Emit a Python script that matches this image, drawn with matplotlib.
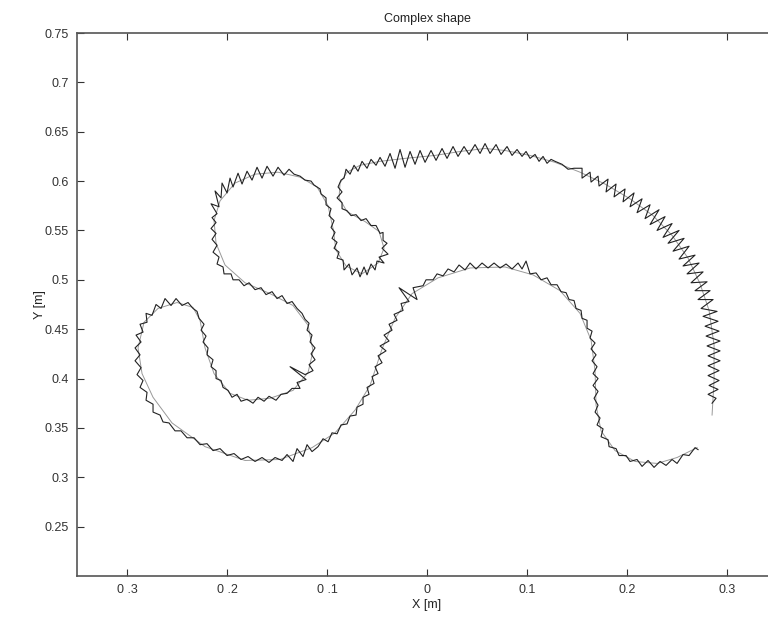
import matplotlib
matplotlib.use('Agg')
import matplotlib.pyplot as plt

# reference path (desired shape), in mm
ref_x = [285, 287, 287, 282, 273, 261, 245, 226, 203, 178, 153, 128, 103, 78, 58, 33, 8, -22, -47, -67,
         -80, -87, -88, -80, -62, -48, -43, -49, -65, -81, -91, -94, -99, -110, -127, -149, -172, -192,
         -207, -213, -211, -202, -182, -157, -134, -119, -114, -119, -134, -157, -179, -197, -213, -222,
         -227, -234, -250, -269, -283, -289, -285, -274, -255, -222, -182, -147, -115, -92, -72, -57, -45,
         -32, -15, 11, 43, 78, 106, 133, 153, 164, 168, 169, 174, 188, 208, 230, 250, 270]
ref_y = [363, 398, 434, 469, 496, 522, 545, 565, 582, 597, 609, 619, 626, 631, 633, 630, 626, 623, 620,
         616, 609, 598, 583, 569, 559, 549, 532, 517, 506, 514, 530, 552, 575, 594, 604, 609, 607, 598,
         580, 560, 537, 515, 497, 486, 474, 454, 428, 406, 388, 380, 378, 385, 405, 431, 459, 472, 477,
         471, 457, 431, 405, 381, 355, 331, 317, 318, 330, 345, 368, 393, 430, 461, 486, 502, 512, 513,
         505, 489, 466, 439, 408, 373, 347, 327, 316, 314, 320, 330]

# measured (tracked) path, in mm
meas = [
    (285, 375), (289, 380), (281, 384), (291, 389), (282, 393), (292, 398), (281, 403), (292, 408),
    (281, 413), (293, 418), (281, 423), (293, 428), (280, 433), (293, 438), (279, 443), (292, 448),
    (278, 453), (291, 458), (276, 463), (290, 468),
    (274, 471), (286, 480), (271, 480), (283, 489), (268, 489), (280, 498),
    (264, 497), (276, 508), (260, 506), (272, 517), (256, 514), (268, 525),
    (252, 521), (262, 534), (246, 529), (257, 542), (241, 537), (252, 550),
    (236, 543), (245, 557), (230, 550), (238, 564), (223, 556), (232, 571),
    (218, 562), (223, 576), (210, 568), (215, 582), (203, 574), (207, 588),
    (196, 579), (198, 592), (187, 584), (189, 597), (179, 589), (181, 602),
    (172, 595), (171, 605), (164, 599), (163, 609), (155, 603), (155, 613),
    (147, 613), (141, 612), (135, 617), (128, 620),
    (124, 622), (120, 618), (116, 625), (112, 620), (108, 627), (103, 623), (99, 630), (95, 625),
    (90, 632), (85, 626), (80, 635), (74, 627), (69, 637), (63, 628), (58, 638), (53, 628),
    (48, 637), (42, 627), (37, 635), (31, 625), (26, 635), (20, 623), (15, 633), (9, 621),
    (4, 631), (-2, 619), (-7, 631), (-12, 617), (-17, 630), (-22, 614), (-27, 632), (-32, 613),
    (-37, 628), (-42, 615), (-47, 624), (-51, 616), (-56, 622), (-60, 613), (-65, 620), (-69, 610),
    (-73, 616), (-77, 607), (-81, 612), (-83, 603),
    (-86, 601), (-89, 594), (-85, 589), (-90, 583), (-85, 578), (-85, 572), (-80, 570), (-76, 565),
    (-71, 566), (-66, 560), (-61, 562), (-56, 555), (-51, 555), (-47, 547), (-44, 548), (-44, 540),
    (-40, 537), (-45, 532), (-39, 526), (-48, 523), (-43, 517), (-50, 519), (-52, 510), (-56, 516),
    (-60, 505), (-63, 513), (-67, 503), (-70, 512), (-75, 505), (-78, 516), (-83, 510), (-84, 520),
    (-90, 522), (-88, 528), (-93, 532), (-90, 538), (-95, 542), (-92, 548), (-96, 553), (-93, 560),
    (-98, 565), (-96, 572), (-101, 576), (-101, 583), (-106, 587), (-107, 592), (-113, 596),
    (-116, 600), (-122, 601), (-127, 605),
    (-133, 607), (-138, 612), (-143, 606), (-149, 614), (-154, 605), (-160, 615), (-165, 603),
    (-170, 614), (-175, 601), (-180, 610), (-185, 597), (-189, 608), (-194, 594), (-197, 603),
    (-200, 588), (-205, 598), (-206, 583), (-212, 590), (-208, 574), (-216, 577), (-210, 567),
    (-215, 563), (-211, 558), (-216, 552), (-211, 547), (-215, 541), (-210, 535), (-214, 528),
    (-208, 523), (-210, 516), (-204, 513), (-203, 506), (-196, 506), (-194, 500), (-188, 500),
    (-183, 494), (-178, 497), (-172, 490), (-166, 492), (-161, 485), (-155, 488), (-150, 481),
    (-145, 484), (-140, 476), (-135, 478), (-130, 471),
    (-125, 466), (-122, 460), (-118, 456), (-120, 449), (-115, 444), (-117, 437), (-112, 431),
    (-116, 425), (-112, 419), (-118, 414), (-114, 408), (-122, 404), (-137, 412), (-121, 399),
    (-130, 396), (-127, 390), (-135, 390), (-140, 385), (-146, 384), (-151, 378), (-158, 382),
    (-163, 377), (-169, 381), (-174, 375), (-180, 379), (-186, 377), (-190, 384), (-195, 381),
    (-199, 388), (-204, 391), (-206, 398), (-211, 400), (-211, 408), (-216, 412), (-214, 419),
    (-220, 424), (-219, 431), (-224, 437), (-221, 443), (-226, 449), (-223, 455), (-228, 461),
    (-230, 468), (-234, 471), (-239, 477), (-245, 474), (-251, 481), (-256, 474), (-262, 481),
    (-266, 471), (-271, 475), (-275, 464), (-281, 466), (-280, 457), (-287, 455), (-284, 447),
    (-291, 444), (-286, 437), (-292, 431), (-287, 424), (-292, 418), (-286, 411), (-290, 404),
    (-284, 398), (-287, 391), (-280, 386), (-281, 378), (-274, 374), (-274, 366), (-267, 363),
    (-264, 356), (-258, 355), (-252, 347), (-246, 347), (-240, 340), (-233, 340), (-227, 333),
    (-220, 334), (-214, 327), (-207, 329), (-200, 322), (-193, 324), (-186, 318), (-179, 321),
    (-172, 316), (-165, 320), (-158, 315), (-152, 320), (-145, 317),
    (-140, 323), (-134, 316), (-130, 329), (-124, 321), (-120, 333), (-115, 326),
    (-109, 331), (-104, 339), (-99, 336), (-95, 345), (-90, 344), (-86, 353), (-80, 354), (-77, 362),
    (-71, 363), (-70, 371), (-64, 374), (-64, 381), (-58, 384), (-60, 391), (-53, 395), (-55, 402),
    (-49, 405), (-52, 412), (-45, 416), (-49, 423), (-41, 428), (-47, 433), (-38, 438), (-43, 444),
    (-35, 449), (-38, 455), (-30, 459), (-33, 465), (-24, 469), (-26, 476), (-18, 478), (-28, 492),
    (-10, 480), (-14, 492), (-4, 494), (-1, 500), (6, 500), (10, 506), (16, 504), (21, 511),
    (27, 508), (32, 515), (38, 510), (43, 517), (49, 511), (55, 517), (61, 512), (67, 517),
    (73, 512), (79, 516), (85, 511), (91, 517), (95, 511), (99, 519), (103, 506), (109, 507),
    (114, 500), (120, 502), (124, 495), (130, 495), (134, 488), (139, 487), (142, 480), (147, 479),
    (149, 471), (154, 469), (155, 461), (160, 459), (160, 451), (165, 448), (163, 441), (168, 436),
    (164, 430), (169, 424), (165, 418), (170, 412), (166, 405), (171, 400), (166, 393), (171, 387),
    (167, 380), (171, 373), (168, 366), (173, 360), (170, 353), (176, 349), (174, 341), (181, 338),
    (182, 331), (189, 329), (192, 322), (199, 322), (203, 316), (210, 318), (215, 311), (221, 317),
    (227, 310), (233, 316), (239, 312), (245, 318), (250, 314), (256, 323), (262, 322), (268, 330),
    (271, 328),
]

x_ticks = [-0.3, -0.2, -0.1, 0, 0.1, 0.2, 0.3]
x_labels = ['0 .3', '0 .2', '0 .1', '0', '0.1', '0.2', '0.3']
y_ticks = [0.25, 0.3, 0.35, 0.4, 0.45, 0.5, 0.55, 0.6, 0.65, 0.7, 0.75]
y_labels = ['0.25', '0.3', '0.35', '0.4', '0.45', '0.5', '0.55', '0.6', '0.65', '0.7', '0.75']

plt.rcParams['font.family'] = ['Liberation Sans', 'DejaVu Sans']

fig = plt.figure(figsize=(7.68, 6.18), dpi=100)
ax = fig.add_axes([0.1003, 0.068, 0.9115, 0.8786])

ax.plot([v / 1000 for v in ref_x], [v / 1000 for v in ref_y], color='#999999', lw=0.7)
ax.plot([p[0] / 1000 for p in meas], [p[1] / 1000 for p in meas], color='#222222', lw=0.8)

ax.set_xlim(-0.35, 0.35)
ax.set_ylim(0.2, 0.75)
ax.set_xticks(x_ticks)
ax.set_xticklabels(x_labels)
ax.set_yticks(y_ticks)
ax.set_yticklabels(y_labels)
ax.tick_params(direction='in', top=True, right=True, length=5, width=0.8,
               labelsize=9, colors='#333333', pad=6)
for s in ax.spines.values():
    s.set_color('#555555')
    s.set_linewidth(1.2)

ax.set_title('Complex shape', fontsize=9, color='#222222', pad=8)
ax.set_xlabel('X [m]', fontsize=9, color='#222222', labelpad=2)
ax.set_ylabel('Y [m]', fontsize=9, color='#222222', labelpad=-1)

fig.savefig('out.png', dpi=100)
